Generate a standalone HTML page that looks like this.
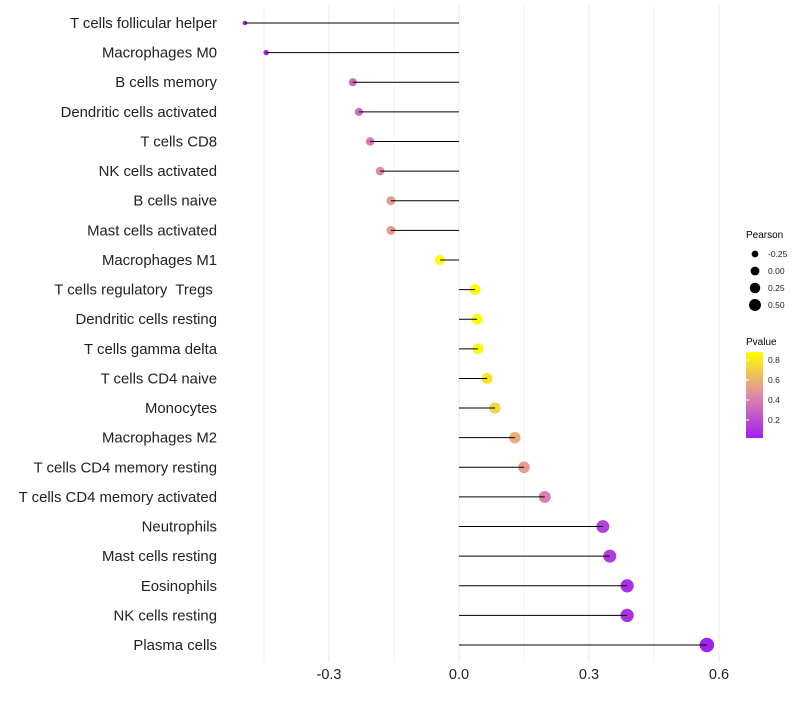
<!DOCTYPE html>
<html><head><meta charset="utf-8"><style>
body{margin:0;background:#fff;font-family:"Liberation Sans",sans-serif}
text{white-space:pre}
</style></head><body>
<svg id="chart" width="800" height="700" xmlns="http://www.w3.org/2000/svg">
<defs><linearGradient id="pg" x1="0" y1="1" x2="0" y2="0">
<stop offset="0" stop-color="#a020f0"/><stop offset="0.5" stop-color="#e08aa8"/><stop offset="1" stop-color="#ffff00"/>
</linearGradient></defs>
<g id="grid"></g><g id="marks"></g><g id="labels"></g>
<g font-size="9">
<text x="746" y="238" font-size="10">Pearson</text>
<g id="sizeLeg"></g>
<text x="746" y="345" font-size="10">Pvalue</text>
<rect x="746" y="352" width="17" height="86" fill="url(#pg)"/>
<g id="colLeg"></g>
</g>
</svg>
<script>
const categories=["T cells follicular helper","Macrophages M0","B cells memory","Dendritic cells activated","T cells CD8","NK cells activated","B cells naive","Mast cells activated","Macrophages M1","T cells regulatory  Tregs ","Dendritic cells resting","T cells gamma delta","T cells CD4 naive","Monocytes","Macrophages M2","T cells CD4 memory resting","T cells CD4 memory activated","Neutrophils","Mast cells resting","Eosinophils","NK cells resting","Plasma cells"];
const pearson=[-0.494,-0.445,-0.245,-0.231,-0.205,-0.182,-0.157,-0.157,-0.044,0.037,0.042,0.044,0.065,0.083,0.129,0.150,0.198,0.332,0.348,0.388,0.388,0.572];
const pvalue=[0.02,0.04,0.32,0.34,0.38,0.44,0.52,0.52,0.86,0.87,0.86,0.85,0.78,0.72,0.58,0.52,0.40,0.15,0.13,0.09,0.09,0.02];
const xTicks=[-0.3,0,0.3,0.6];
const xTickLabels=["-0.3","0.0","0.3","0.6"];
const sizeLegVals=[-0.25,0,0.25,0.5];
const colLegVals=[0.8,0.6,0.4,0.2];
const NS="http://www.w3.org/2000/svg";
const X=v=>459+v*433.33;
const Y=i=>23+i*29.62;
const R=v=>Math.sqrt(Math.max(1,27+44*v));
const PY=p=>352+(0.88-p)*100;
function lerp(a,b,t){return a.map((x,i)=>Math.round(x+(b[i]-x)*t));}
function col(p){const t=Math.max(0,Math.min(1,(p-0.02)/0.86));
const c0=[160,32,240],c1=[224,138,168],c2=[255,255,0];
const c=t<0.5?lerp(c0,c1,t*2):lerp(c1,c2,(t-0.5)*2);return `rgb(${c})`;}
function mk(tag,attrs,parent){const e=document.createElementNS(NS,tag);for(const k in attrs)e.setAttribute(k,attrs[k]);parent.appendChild(e);return e;}
const grid=document.getElementById('grid'),marks=document.getElementById('marks'),labels=document.getElementById('labels');
for(let v=-0.45;v<=0.61;v+=0.15){const g=mk('line',{x1:X(v),x2:X(v),y1:5,y2:662,stroke:'#ebebeb','stroke-width':Math.abs(Math.round(v/0.15)%2)===0?1.1:0.6},grid);

}
xTicks.forEach((v,i)=>{const t=mk('text',{x:X(v),y:679,'text-anchor':'middle','font-size':14.5,fill:'#222'},labels);t.textContent=xTickLabels[i];

});
categories.forEach((c,i)=>{
const t=mk('text',{x:217,y:Y(i)+5,'text-anchor':'end','font-size':14.9,fill:'#222'},labels);t.textContent=c;


const dot=mk('circle',{cx:X(pearson[i]),cy:Y(i),r:R(pearson[i]),fill:col(pvalue[i])},marks);


const l=mk('line',{x1:X(pearson[i]),x2:X(0),y1:Y(i),y2:Y(i),stroke:'#000','stroke-width':1},marks);


});
const sl=document.getElementById('sizeLeg');
sizeLegVals.forEach((v,i)=>{const y=254+i*17;
const c=mk('circle',{cx:755,cy:y,r:R(v)*0.85,fill:'#000'},sl);


const t=mk('text',{x:768,y:y+3,'font-size':8.5,fill:'#222'},sl);t.textContent=v.toFixed(2);

});
const cl=document.getElementById('colLeg');
colLegVals.forEach(v=>{const y=PY(v);
const t=mk('text',{x:768,y:y+3,'font-size':8.5,fill:'#222'},cl);t.textContent=v.toFixed(1);


const k=mk('line',{x1:746,x2:749,y1:y,y2:y,stroke:'#fff'},cl);

});
</script>
</body></html>
